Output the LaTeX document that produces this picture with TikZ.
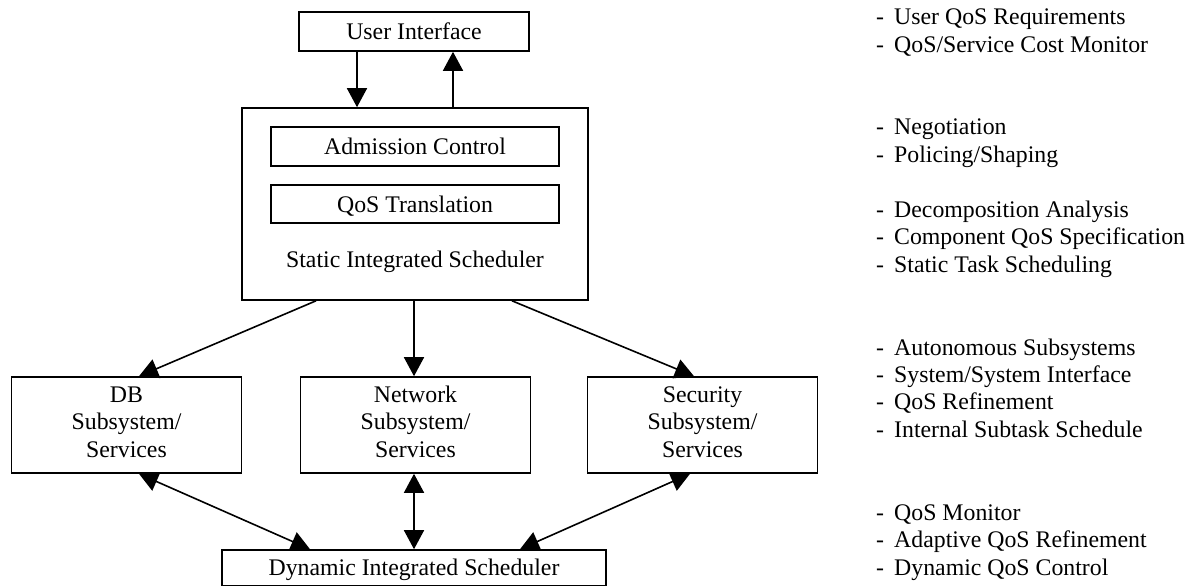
\documentclass[tikz,border=0pt]{standalone}
\usepackage{fontspec}
\setmainfont{Liberation Serif}
\usetikzlibrary{arrows.meta}
\newcommand\notedash[1]{\makebox[18pt][l]{-}#1}
\begin{document}
\begin{tikzpicture}[x=1pt,y=-1pt,
  txt/.style={font=\fontsize{23.8}{27.3}\selectfont},
  box/.style={draw, line width=1.6pt, inner sep=0pt, txt},
  onebox/.style={box, text height=16pt, text depth=0pt},
  subbox/.style={box, align=center, minimum width=230pt, minimum height=96pt,
                 text height=64pt, text depth=0pt},
  tip/.tip={Triangle[length=19pt,width=20pt]},
  link/.style={line width=1.6pt, -tip},
  twoway/.style={line width=1.6pt, tip-tip},
  notes/.style={anchor=base west, align=left, inner sep=0pt, txt}]
\useasboundingbox (0,0) rectangle (1200,587);

% interface and static scheduler
\node[onebox, minimum width=230pt, minimum height=39pt] (ui) at (414,31.5) {User Interface};
\node[box, minimum width=346pt, minimum height=192pt] (static) at (415,204) {};
\node[onebox, minimum width=288pt, minimum height=39pt] (adm) at (415,146.5) {Admission Control};
\node[onebox, minimum width=288pt, minimum height=38pt] (trans) at (415,204) {QoS Translation};
\node[anchor=base, inner sep=0pt, txt] (staticlabel) at (415,267) {Static Integrated Scheduler};

% subsystems
\node[subbox] (db) at (126.5,425) {DB\\Subsystem/\\Services};
\node[subbox] (net) at (415.5,425) {Network\\Subsystem/\\Services};
\node[subbox] (sec) at (702.5,425) {Security\\Subsystem/\\Services};

% dynamic scheduler
\node[onebox, minimum width=384pt, minimum height=35.5pt] (dyn) at (414,567.75) {Dynamic Integrated Scheduler};

% connectors
\draw[link] ([xshift=-57pt]ui.south) -- ([xshift=-57pt]ui.south |- static.north);
\draw[link] ([xshift=39pt]ui.south |- static.north) -- ([xshift=39pt]ui.south);

\draw[link] ([xshift=-99pt]static.south) -- ([xshift=12.5pt]db.north);
\draw[link] ([xshift=-1pt]static.south) -- ([xshift=-1pt]static.south |- net.north);
\draw[link] ([xshift=97pt]static.south) -- ([xshift=-8.5pt]sec.north);

\draw[twoway] ([xshift=12.5pt]db.south) -- ([xshift=-104pt]dyn.north);
\draw[twoway] ([xshift=-1.5pt]net.south) -- ([xshift=-1.5pt]net.south |- dyn.north);
\draw[twoway] ([xshift=-12.5pt]sec.south) -- ([xshift=106pt]dyn.north);

% descriptions (each node is placed by the baseline of its last line)
\node[notes] (n1) at (876,52) {\notedash{User QoS Requirements}\\\notedash{QoS/Service Cost Monitor}};
\node[notes] (n2) at (876,162) {\notedash{Negotiation}\\\notedash{Policing/Shaping}};
\node[notes] (n3) at (876,272) {\notedash{Decomposition Analysis}\\\notedash{Component QoS Specification}\\\notedash{Static Task Scheduling}};
\node[notes] (n4) at (876,437) {\notedash{Autonomous Subsystems}\\\notedash{System/System Interface}\\\notedash{QoS Refinement}\\\notedash{Internal Subtask Schedule}};
\node[notes] (n5) at (876,575) {\notedash{QoS Monitor}\\\notedash{Adaptive QoS Refinement}\\\notedash{Dynamic QoS Control}};
\end{tikzpicture}
\end{document}
